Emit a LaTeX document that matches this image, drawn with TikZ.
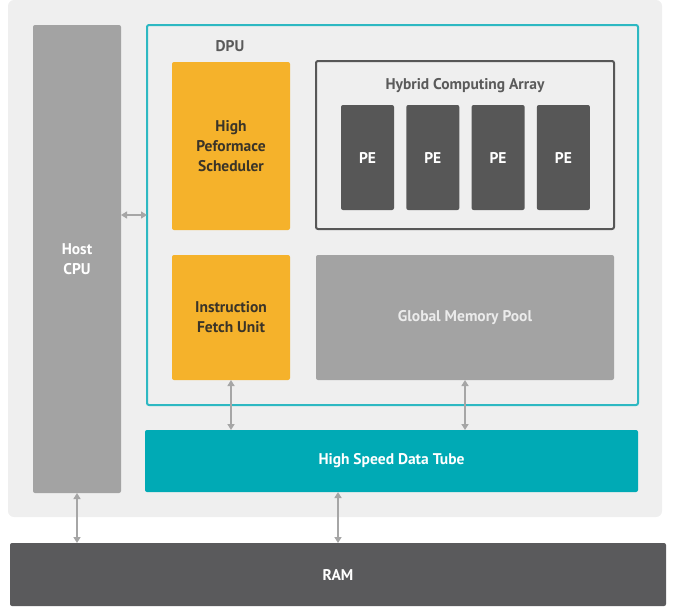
\documentclass[tikz,border=0pt]{standalone}
\usepackage{fontspec}
\setmainfont{PT Sans}
\usetikzlibrary{arrows.meta}

\definecolor{panel}{HTML}{EFEFEF}
\definecolor{cpugray}{HTML}{A3A3A3}
\definecolor{dpucyan}{HTML}{2DB8C2}
\definecolor{sched}{HTML}{F5B22B}
\definecolor{pedark}{HTML}{575757}
\definecolor{tubeteal}{HTML}{00AAB5}
\definecolor{ramdark}{HTML}{5A5A5C}
\definecolor{linkgray}{HTML}{A6A6A6}
\definecolor{textdark}{HTML}{3A3428}
\definecolor{titlegray}{HTML}{5A5A5A}

\begin{document}
\begin{tikzpicture}[x=1pt,y=-1pt,
    box/.style={rectangle,rounded corners=2pt,inner sep=0pt,outer sep=0pt,align=center,
                font=\bfseries\fontsize{15.5}{20}\selectfont},
    link/.style={{Triangle[width=7pt,length=6pt]}-{Triangle[width=7pt,length=6pt]},
                 line width=1.8pt,draw=linkgray}]
    \useasboundingbox (0,0) rectangle (676,611);

    % background panel
    \node[box,fill=panel,rounded corners=6pt,minimum width=654,minimum height=517] (soc) at (335,258.5) {};

    \node[box,fill=cpugray,text=white,minimum width=88,minimum height=468] (cpu) at (77,259) {Host\\CPU};

    \node[box,draw=dpucyan,line width=2pt,minimum width=491,minimum height=380] (dpu) at (392.5,215) {};
    \node[box,text=titlegray] (dpulabel) at (230,46) {DPU};

    \node[box,fill=sched,text=textdark,minimum width=118,minimum height=168] (hps) at (231,146) {High\\Peformace\\Scheduler};
    \node[box,fill=sched,text=textdark,minimum width=118,minimum height=125] (ifu) at (231,317.5) {Instruction\\Fetch Unit};

    \node[box,draw=pedark,line width=2pt,minimum width=298,minimum height=168] (hca) at (465,145) {};
    \node[box,text=titlegray] (hcalabel) at (465,86) {Hybrid Computing Array};
    \foreach \i in {0,...,3}
        \node[box,fill=pedark,text=white,minimum width=53,minimum height=105] (pe\i) at (367.5+65.3*\i,157.5) {PE};

    \node[box,fill=cpugray,text=white!92!black,minimum width=298,minimum height=125] (pool) at (465,317.5) {Global Memory Pool};

    \node[box,fill=tubeteal,text=white,minimum width=493,minimum height=62] (tube) at (391.5,461) {High Speed Data Tube};

    \node[box,fill=ramdark,text=white,minimum width=656,minimum height=63] (ram) at (338,574.5) {RAM};

    % links
    \draw[link,line width=1.4pt] (cpu.east |- dpu.west) -- (dpu.west);
    \draw[link] (ifu.south) -- (ifu.south |- tube.north);
    \draw[link] (pool.south) -- (pool.south |- tube.north);
    \draw[link] (cpu.south) -- (cpu.south |- ram.north);
    \draw[link] (ram.north) -- (ram.north |- tube.south);
\end{tikzpicture}
\end{document}
